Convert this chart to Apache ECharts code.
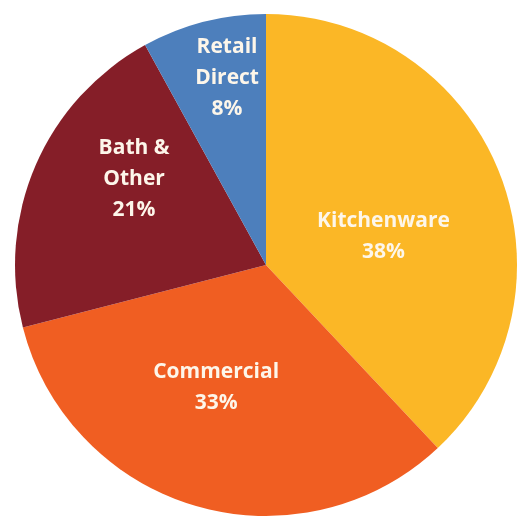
<!DOCTYPE html>
<html>
<head>
<meta charset="utf-8">
<script src="https://cdn.jsdelivr.net/npm/echarts@6/dist/echarts.min.js"></script>
<style>
html,body{margin:0;padding:0;background:#fff;}
#main{width:519px;height:518px;}
</style>
</head>
<body>
<div id="main"></div>
<script>
// segment data (share of sales, %)
var segNames = ['Kitchenware', 'Commercial', 'Bath & Other', 'Retail Direct'];
var segLabels = ['Kitchenware', 'Commercial', 'Bath &\nOther', 'Retail\nDirect'];
var segValues = [38, 33, 21, 8];
var segColors = ['#fbb726', '#f05e22', '#851e28', '#4d7fbc'];
// nudge labels to where the original put them
var labelOffsets = [[-2, 19], [-14, -1], [-14, -35], [-7, -63]];

var chart = echarts.init(document.getElementById('main'));

var pieData = [];
for (var i = 0; i < segNames.length; i++) {
    pieData.push({
        name: segNames[i],
        value: segValues[i],
        itemStyle: { color: segColors[i] },
        label: { offset: labelOffsets[i] }
    });
}

chart.setOption({
    animation: false,
    series: [{
        type: 'pie',
        center: [266, 265],
        radius: [0, 251],
        startAngle: 90,
        clockwise: true,
        avoidLabelOverlap: false,
        label: {
            show: true,
            position: 'inside',
            color: '#fdf6ea',
            fontFamily: 'Open Sans',
            fontWeight: 'bold',
            fontSize: 21,
            lineHeight: 31,
            align: 'center',
            formatter: function (p) {
                return segLabels[p.dataIndex] + '\n' + Math.round(p.percent) + '%';
            }
        },
        labelLine: { show: false },
        emphasis: { disabled: true },
        data: pieData
    }]
});
</script>
</body>
</html>
